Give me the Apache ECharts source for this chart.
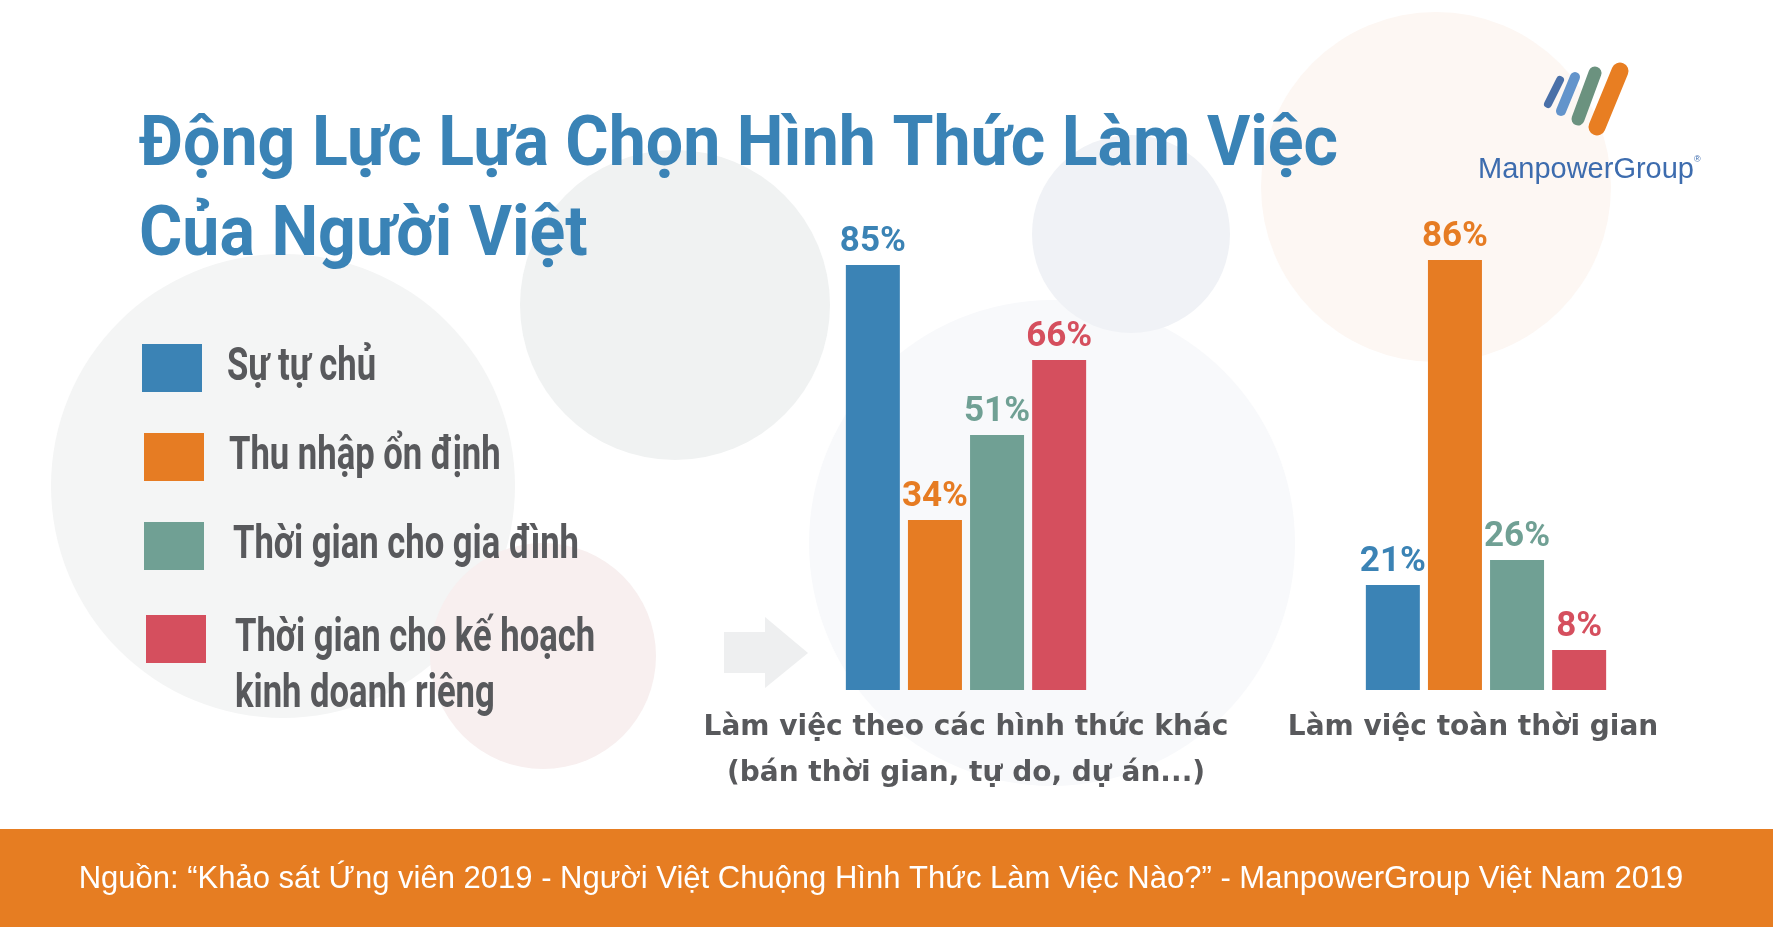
<!DOCTYPE html>
<html>
<head>
<meta charset="utf-8">
<script src="https://cdn.jsdelivr.net/npm/echarts@6/dist/echarts.min.js"></script>
<style>
html,body{margin:0;padding:0;background:#ffffff;}
#chart{width:1773px;height:927px;}
</style>
</head>
<body>
<div id="chart"></div>
<script>
// ---- data ----
const categories = ['Làm việc theo các hình thức khác\n(bán thời gian, tự do, dự án...)', 'Làm việc toàn thời gian'];
const seriesNames = ['Sự tự chủ', 'Thu nhập ổn định', 'Thời gian cho gia đình', 'Thời gian cho kế hoạch kinh doanh riêng'];
const legendLabels = ['Sự tự chủ', 'Thu nhập ổn định', 'Thời gian cho gia đình', 'Thời gian cho kế hoạch\nkinh doanh riêng'];
const suTuChu = [85, 21];
const thuNhapOnDinh = [34, 86];
const thoiGianGiaDinh = [51, 26];
const thoiGianKinhDoanh = [66, 8];
const titleText = 'Động Lực Lựa Chọn Hình Thức Làm Việc\nCủa Người Việt';
const footerText = 'Nguồn: “Khảo sát Ứng viên 2019 - Người Việt Chuộng Hình Thức Làm Việc Nào?” - ManpowerGroup Việt Nam 2019';
const brandText = 'ManpowerGroup';

// ---- styles ----
const colors = ['#3b83b5', '#e67c23', '#70a094', '#d54f5e'];
const seriesData = [suTuChu, thuNhapOnDinh, thoiGianGiaDinh, thoiGianKinhDoanh];
const GREY = '#58595c';
const TITLE_FONT = 'bold 70px Roboto, "Liberation Sans", sans-serif';
const LEGEND_FONT = 'bold 46px Roboto, "Liberation Sans", sans-serif';

// horizontal condensing factors (fonts are not condensed natively)
const mctx = document.createElement('canvas').getContext('2d');
function fitScale(text, font, target) { mctx.font = font; return target / mctx.measureText(text).width; }
const titleScale = fitScale(titleText.split('\n')[0], TITLE_FONT, 1199);
const legendScale = fitScale('Thời gian cho gia đình', LEGEND_FONT, 346);

const chart = echarts.init(document.getElementById('chart'), null, {renderer: 'canvas'});

const bg = [
  {type: 'circle', shape: {cx: 1052, cy: 543, r: 243}, style: {fill: '#f8f9fb'}},
  {type: 'circle', shape: {cx: 283, cy: 486, r: 232}, style: {fill: '#f4f5f5'}},
  {type: 'circle', shape: {cx: 675, cy: 305, r: 155}, style: {fill: '#f0f2f2'}},
  {type: 'circle', shape: {cx: 1131, cy: 234, r: 99}, style: {fill: '#f0f2f6'}},
  {type: 'circle', shape: {cx: 1436, cy: 187, r: 175}, style: {fill: '#fdf7f3'}},
  {type: 'circle', shape: {cx: 543, cy: 656, r: 113}, style: {fill: '#f8efef'}},
  {type: 'polygon', shape: {points: [[724, 632], [765, 632], [765, 617], [808, 653], [765, 688], [765, 673], [724, 673]]}, style: {fill: '#eeeff0'}}
].map(e => Object.assign({z: -10, silent: true}, e));

const legendY = [368, 457, 546, 639];
const legendSqX = [142, 144, 144, 146];
const legendTxX = [227, 229, 233, 235];
const legendEls = [];
legendLabels.forEach((lab, i) => {
  legendEls.push({type: 'rect', shape: {x: legendSqX[i], y: legendY[i] - 24, width: 60, height: 48}, style: {fill: colors[i]}, z: 10});
  legendEls.push({type: 'text', x: legendTxX[i], y: legendY[i] - 28, scaleX: legendScale, z: 10,
    style: {text: lab, fill: GREY, font: LEGEND_FONT, lineHeight: 56, verticalAlign: 'top', align: 'left'}});
});

const logo = [
  {p: [1560, 80, 1548, 104], w: 8, c: '#4a70a8'},
  {p: [1575, 77, 1561, 111], w: 10, c: '#6394cb'},
  {p: [1595, 73, 1578, 119], w: 13, c: '#6b927f'},
  {p: [1620, 71, 1597, 127], w: 17, c: '#e87e22'}
].map(s => ({type: 'line', shape: {x1: s.p[0], y1: s.p[1], x2: s.p[2], y2: s.p[3]}, style: {stroke: s.c, lineWidth: s.w, lineCap: 'round'}, z: 10}));

// per-category label offsets (style only)
const catPad = [[0, 0, 0, 0], [0, 26, 0, 0]];

const option = {
  backgroundColor: '#ffffff',
  animation: false,
  grid: {left: 706, right: 27, top: 190, bottom: 237, containLabel: false},
  xAxis: {
    type: 'category', data: categories.map((c, i) => ({value: c, textStyle: {padding: catPad[i]}})),
    axisLine: {show: false}, axisTick: {show: false},
    axisLabel: {margin: 15, color: GREY, fontFamily: '"DejaVu Sans", sans-serif', fontWeight: 'bold', fontSize: 28, lineHeight: 46, interval: 0}
  },
  yAxis: {type: 'value', min: 0, max: 100, show: false, splitLine: {show: false}},
  series: seriesNames.map((name, i) => ({
    name: name, type: 'bar', data: seriesData[i], barWidth: 54, barGap: '15%',
    itemStyle: {color: colors[i]},
    label: {show: true, position: 'top', distance: 5, formatter: '{c}%', color: colors[i], fontFamily: 'Roboto, sans-serif', fontWeight: 'bold', fontSize: 35}
  })),
  graphic: [].concat(bg, legendEls, logo, [
    {type: 'text', x: 139, y: 102, scaleX: titleScale, z: 10,
      style: {text: titleText, fill: '#3a83b6', font: TITLE_FONT, lineHeight: 90, verticalAlign: 'top', align: 'left'}},
    {type: 'text', x: 1478, y: 170, z: 10, style: {text: brandText, fill: '#3d6cae', font: '29px "Liberation Sans", Arial, sans-serif', verticalAlign: 'middle', align: 'left'}},
    {type: 'text', x: 1694, y: 160, z: 10, style: {text: '®', fill: '#3d6cae', font: '9px "Liberation Sans", Arial, sans-serif', verticalAlign: 'middle', align: 'left'}},
    {type: 'rect', shape: {x: 0, y: 829, width: 1773, height: 98}, style: {fill: '#e67d22'}, z: 5},
    {type: 'text', x: 881, y: 879, z: 6, style: {text: footerText, fill: '#ffffff', font: '31px "Liberation Sans", Arial, sans-serif', verticalAlign: 'middle', align: 'center'}}
  ])
};
chart.setOption(option);
</script>
</body>
</html>
